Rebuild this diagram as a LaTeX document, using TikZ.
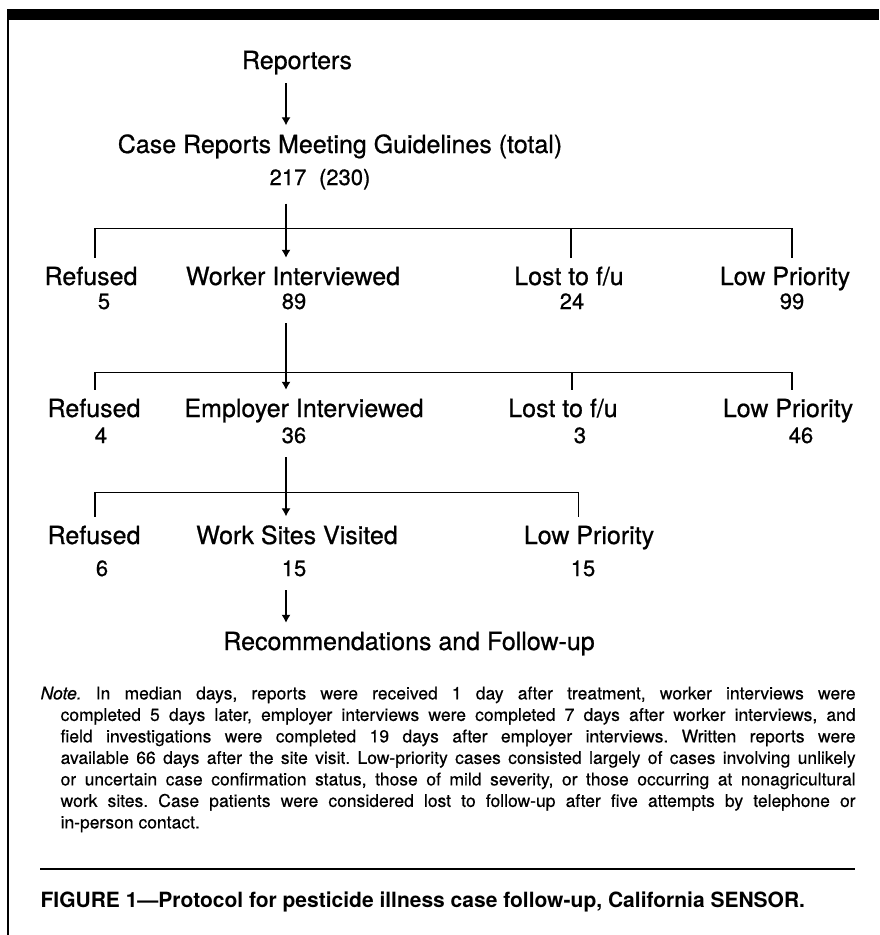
\documentclass[tikz,border=0pt]{standalone}
\usepackage{fontspec}
\setmainfont{TeX Gyre Heros}
\newfontfamily\chartfont{TeX Gyre Heros}[FakeBold = 0.7]
\newfontfamily\notefont{TeX Gyre Heros}[FakeBold = 0.4]
\usetikzlibrary{arrows.meta}
\frenchspacing

\begin{document}
\begin{tikzpicture}[x = 1pt, y = -1pt, > = {Latex[length = 8pt, width = 9pt]}, line width = 1.2pt,
	stage/.style = {font = \chartfont\fontsize{25}{28}\selectfont, inner sep = 0pt, outer ysep = 9pt, anchor = base},
	tally/.style = {font = \chartfont\fontsize{22}{25}\selectfont, inner sep = 0pt, outer ysep = 14pt, anchor = base},
	notetext/.style = {font = \notefont\fontsize{17.5}{21.5}\selectfont, inner sep = 0pt, anchor = north west, align = left}]

	% Frame
	
	\useasboundingbox (0, 0) rectangle (879, 935);
	\fill [white] (0, 0) rectangle (879, 935);
	\fill [black] (7, 9) rectangle (879, 20);
	\draw [line width = 1.3pt] (8, 9) -- (8, 935);
	
	\coordinate (stem) at (286, 0);

	% Reports
	
	\node [stage] (rep) at (297, 69) {Reporters};
	\node [stage] (case) at (340, 153) {Case Reports Meeting Guidelines (total)};
	\node [tally] (caseN) at (320, 185) {217\hspace{0.3em} (230)};
	
	\draw [->] (rep.south -| stem) -- (case.north -| stem);

	% Worker interviews
	
	\node [stage] (refA) at (91, 285) {Refused};
	\node [stage] (wrk) at (293, 285) {Worker Interviewed};
	\node [stage] (lostA) at (569, 285) {Lost to f/u};
	\node [stage] (lowA) at (785, 285) {Low Priority};
	
	\node [tally] (refAN) at (104, 309) {5};
	\node [tally] (wrkN) at (294, 309) {89};
	\node [tally] (lostAN) at (572, 309) {24};
	\node [tally] (lowAN) at (792, 309) {99};
	
	\coordinate (aL) at (95, 228.5);
	\coordinate (aM) at (571, 228.5);
	\coordinate (aR) at (792, 228.5);
	
	\draw (aL |- refA.north) -- (aL) -- (aR) -- (aR |- lowA.north);
	\draw (aM) -- (aM |- lostA.north);
	\draw [->] (caseN.south -| stem) -- (wrk.north -| stem);

	% Employer interviews
	
	\node [stage] (refB) at (94, 417) {Refused};
	\node [stage] (emp) at (304, 417) {Employer Interviewed};
	\node [stage] (lostB) at (563, 417) {Lost to f/u};
	\node [stage] (lowB) at (788, 417) {Low Priority};
	
	\node [tally] (refBN) at (101, 443) {4};
	\node [tally] (empN) at (294, 443) {36};
	\node [tally] (lostBN) at (580, 443) {3};
	\node [tally] (lowBN) at (801, 443) {46};
	
	\coordinate (bL) at (95, 372.7);
	\coordinate (bM) at (572, 372.7);
	\coordinate (bR) at (792, 372.7);
	
	\draw (bL |- refB.north) -- (bL) -- (bR) -- (bR |- lowB.north);
	\draw (bM) -- (bM |- lostB.north);
	\draw [->] (wrkN.south -| stem) -- (emp.north -| stem);

	% Site visits
	
	\node [stage] (refC) at (94, 544) {Refused};
	\node [stage] (site) at (297, 544) {Work Sites Visited};
	\node [stage] (lowC) at (589, 544) {Low Priority};
	
	\node [tally] (refCN) at (102, 576) {6};
	\node [tally] (siteN) at (294, 576) {15};
	\node [tally] (lowCN) at (583, 576) {15};
	
	\coordinate (cL) at (95, 492.7);
	\coordinate (cR) at (578.5, 492.7);
	
	\draw (cL |- refC.north) -- (cL) -- (cR) -- (cR |- lowC.north);
	\draw [->] (empN.south -| stem) -- (site.north -| stem);
	
	\node [stage] (rec) at (409, 650) {Recommendations and Follow-up};
	
	\draw [->] (siteN.south -| stem) -- (rec.north -| stem);

	% Note + caption
	
	\node [notetext] (note) at (40, 686) {%
		\makebox[815pt][s]{\textit{Note.} In median days, reports were received 1 day after treatment, worker interviews were}\\
		\hspace*{20pt}\makebox[795pt][s]{completed 5 days later, employer interviews were completed 7 days after worker interviews, and}\\
		\hspace*{20pt}\makebox[795pt][s]{field investigations were completed 19 days after employer interviews. Written reports were}\\
		\hspace*{20pt}\makebox[795pt][s]{available 66 days after the site visit. Low-priority cases consisted largely of cases involving unlikely}\\
		\hspace*{20pt}\makebox[795pt][s]{or uncertain case confirmation status, those of mild severity, or those occurring at nonagricultural}\\
		\hspace*{20pt}\makebox[795pt][s]{work sites. Case patients were considered lost to follow-up after five attempts by telephone or}\\
		\hspace*{20pt}in-person contact.};
	
	\draw [line width = 1.4pt] (40, 869) -- (855, 869);
	
	\node [anchor = base west, inner sep = 0pt, font = \bfseries\fontsize{21}{24}\selectfont] (caption) at (40, 907) {FIGURE 1---Protocol for pesticide illness case follow-up, California SENSOR.};

\end{tikzpicture}
\end{document}
